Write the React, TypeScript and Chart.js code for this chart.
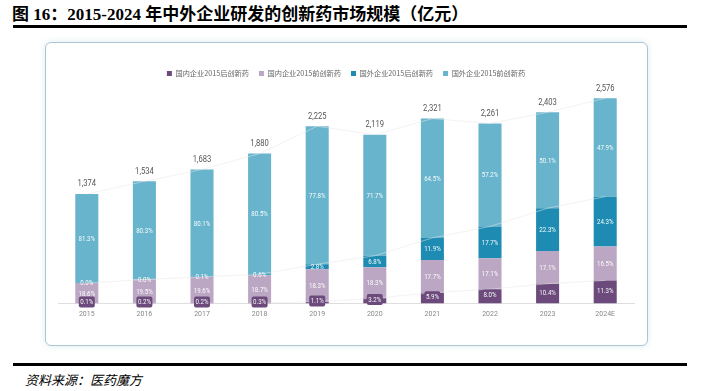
import React, { useEffect, useRef } from 'react';
import { Chart, registerables } from 'chart.js';

Chart.register(...registerables);

// ---- data ----
const years = ['2015', '2016', '2017', '2018', '2019', '2020', '2021', '2022', '2023', '2024E'];
const totals = [1374, 1534, 1683, 1880, 2225, 2119, 2321, 2261, 2403, 2576]; // 亿元
// shares (%) of each segment
const domesticNewPct = [0.1, 0.2, 0.2, 0.3, 1.1, 3.2, 5.9, 8.0, 10.4, 11.3]; // 国内企业2015后创新药
const domesticOldPct = [18.6, 19.5, 19.6, 18.7, 18.3, 18.3, 17.7, 17.1, 17.1, 16.5]; // 国内企业2015前创新药
const foreignNewPct = [0.0, 0.0, 0.1, 0.6, 2.8, 6.8, 11.9, 17.7, 22.3, 24.3]; // 国外企业2015后创新药
const foreignOldPct = [81.3, 80.3, 80.1, 80.5, 77.8, 71.7, 64.5, 57.2, 50.1, 47.9]; // 国外企业2015前创新药

const seriesNames = ['国内企业2015后创新药', '国内企业2015前创新药', '国外企业2015后创新药', '国外企业2015前创新药'];
const seriesPcts = [domesticNewPct, domesticOldPct, foreignNewPct, foreignOldPct];
const seriesColors = ['#6c4b7c', '#bba7c3', '#1e8cb2', '#67b4cc'];

const SANS = '"Roboto", "Noto Sans", sans-serif';

function narrowText(ctx: CanvasRenderingContext2D, text: string, x: number, y: number, sx: number) {
  ctx.save();
  ctx.translate(x, y);
  ctx.scale(sx, 1);
  ctx.fillText(text, 0, 0);
  ctx.restore();
}

const segLabels = {
  id: 'segLabels',
  afterDatasetsDraw(chart: any) {
    const ctx = chart.ctx as CanvasRenderingContext2D;
    ctx.save();
    ctx.textAlign = 'center';
    ctx.textBaseline = 'middle';
    for (let d = 0; d < 4; d++) {
      const meta = chart.getDatasetMeta(d);
      meta.data.forEach((el: any, i: number) => {
        const text = seriesPcts[d][i].toFixed(1) + '%';
        let cy = (el.y + el.base) / 2;
        if (d === 0) {
          cy -= 1.5;
          const w = 16, h = 11, r = 2;
          ctx.fillStyle = seriesColors[0];
          ctx.beginPath();
          (ctx as any).roundRect(el.x - w / 2, cy - h / 2, w, h, r);
          ctx.fill();
        }
        ctx.fillStyle = 'rgba(255,255,255,0.95)';
        ctx.font = `7.5px ${SANS}`;
        narrowText(ctx, text, el.x, cy + 0.5, 0.82);
      });
    }
    const top = chart.getDatasetMeta(3);
    top.data.forEach((el: any, i: number) => {
      ctx.fillStyle = '#555';
      ctx.font = `9.5px ${SANS}`;
      narrowText(ctx, totals[i].toLocaleString('en-US'), el.x, el.y - 10, 0.8);
    });
    ctx.restore();
  },
};

export default function App() {
  const ref = useRef<HTMLCanvasElement>(null);

  useEffect(() => {
    if (!ref.current) return;
    const barSets = seriesNames.map((name, d) => ({
      type: 'bar' as const,
      label: name,
      data: totals.map((t, i) => (t * seriesPcts[d][i]) / 100),
      backgroundColor: seriesColors[d],
      borderWidth: 0,
      stack: 'bars',
      barPercentage: 0.4,
      categoryPercentage: 1.0,
      order: 2,
    }));
    const levelLine = (upto: number, key: string) => ({
      type: 'line' as const,
      label: key,
      data: totals.map((t, i) => {
        let s = 0;
        for (let d = 0; d <= upto; d++) s += seriesPcts[d][i];
        return (t * s) / 100;
      }),
      borderColor: 'rgba(232,232,232,0.5)',
      borderWidth: 1,
      pointRadius: 0,
      fill: false,
      stack: key,
      order: 1,
    });
    const chart = new Chart(ref.current, {
      data: {
        labels: years,
        datasets: [...barSets, levelLine(0, 'l0'), levelLine(2, 'l2'), levelLine(3, 'l3')] as any,
      },
      plugins: [segLabels],
      options: {
        responsive: false,
        animation: false,
        layout: { padding: { left: 13, right: 14, top: 18, bottom: 22 } },
        plugins: {
          legend: {
            position: 'top',
            labels: {
              boxWidth: 5,
              boxHeight: 5,
              padding: 10,
              color: '#666',
              font: { size: 7.2, family: '"Noto Sans CJK SC", sans-serif' },
              filter: (item: any) => item.datasetIndex < 4,
            },
          },
          tooltip: { enabled: false },
        },
        scales: {
          x: {
            stacked: true,
            grid: { display: false, drawTicks: false },
            border: { display: true, color: '#dedede', width: 1 },
            ticks: { color: '#888', padding: 6, font: { size: 7, family: SANS } },
          },
          y: {
            stacked: true,
            display: false,
            min: 0,
            max: 2715,
          },
        },
      },
    });
    return () => chart.destroy();
  }, []);

  return (
    <div style={{ position: 'absolute', left: 0, top: 0, width: 701, height: 391, background: '#fff', overflow: 'hidden' }}>
      <div
        style={{
          position: 'absolute',
          left: 12,
          top: 5,
          lineHeight: '20px',
          fontSize: 17,
          fontWeight: 'bold',
          fontFamily: '"Liberation Serif", "Noto Sans CJK SC", serif',
          whiteSpace: 'nowrap',
          color: '#000',
        }}
      >
        图 16：2015-2024 年中外企业研发的创新药市场规模（亿元）
      </div>
      <div style={{ position: 'absolute', left: 13, top: 25, width: 674, height: 2.5, background: '#000' }} />
      <div
        style={{
          position: 'absolute',
          left: 45,
          top: 42,
          width: 603,
          height: 304,
          boxSizing: 'border-box',
          border: '1.5px solid #a9c6d3',
          borderRadius: 6,
          boxShadow: '0 0 6px rgba(160,195,210,0.35)',
        }}
      />
      <canvas ref={ref} width={603} height={304} style={{ position: 'absolute', left: 45, top: 42 }} />
      <div style={{ position: 'absolute', left: 13, top: 363, width: 674, height: 2.5, background: '#000' }} />
      <div
        style={{
          position: 'absolute',
          left: 25,
          top: 372,
          lineHeight: '16px',
          fontSize: 13,
          fontStyle: 'italic',
          fontFamily: '"Noto Sans CJK SC", sans-serif',
          whiteSpace: 'nowrap',
          color: '#000',
        }}
      >
        资料来源：医药魔方
      </div>
    </div>
  );
}
